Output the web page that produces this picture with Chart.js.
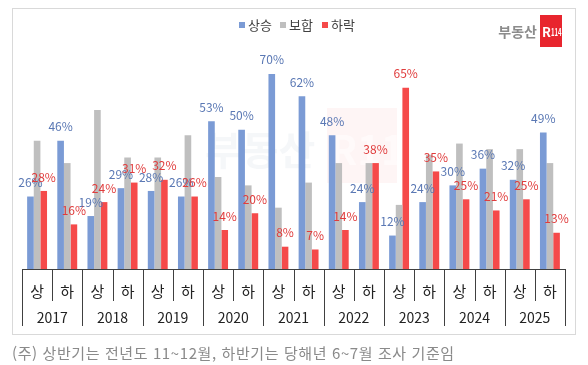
<!DOCTYPE html>
<html lang="ko">
<head>
<meta charset="UTF-8">
<title>아파트 가격 전망</title>
<script src="https://cdn.jsdelivr.net/npm/chart.js"></script>
<style>
  html, body { margin: 0; padding: 0; background: #fff; }
  #wrap { position: relative; width: 588px; height: 365px; overflow: hidden; }
  #frame { position: absolute; left: 12px; top: 8px; width: 564px; height: 327px; border: 1px solid #d9d9d9; box-sizing: border-box; }
  #chart { position: absolute; left: 0; top: 0; }
  #note { position: absolute; left: 12px; top: 342px; font: 15px 'Noto Sans CJK KR', 'Noto Sans', sans-serif; color: #8a8a8a; white-space: nowrap; letter-spacing: 0.6px; }
</style>
</head>
<body>
<div id="wrap">
  <div id="frame"></div>
  <canvas id="chart" width="588" height="365"></canvas>
  <div id="note">(주) 상반기는 전년도 11~12월, 하반기는 당해년 6~7월 조사 기준임</div>
</div>
<script>
const years = ['2017', '2018', '2019', '2020', '2021', '2022', '2023', '2024', '2025'];
const halves = ['상', '하'];
const rise = [26, 46, 19, 29, 28, 26, 53, 50, 70, 62, 48, 24, 12, 24, 30, 36, 32, 49];
const flat = [46, 38, 57, 40, 40, 48, 33, 30, 22, 31, 38, 38, 23, 41, 45, 43, 43, 38];
const fall = [28, 16, 24, 31, 32, 26, 14, 20, 8, 7, 14, 38, 65, 35, 25, 21, 25, 13];

const labels = [];
years.forEach(() => halves.forEach(h => labels.push(h)));

const FONT = "'Noto Sans CJK KR', 'Noto Sans', sans-serif";
const BLUE = '#7b9bd5', GRAY = '#bfbfbf', RED = '#f54a4a';

// 막대 위 값 표시 (상승, 하락만)
const valueLabels = {
  id: 'valueLabels',
  afterDatasetsDraw(chart) {
    const ctx = chart.ctx;
    ctx.save();
    ctx.font = '12px ' + FONT;
    ctx.textAlign = 'center';
    ctx.textBaseline = 'middle';
    [[0, '#5a78b4'], [2, '#e03c3c']].forEach(([di, color]) => {
      const meta = chart.getDatasetMeta(di);
      ctx.fillStyle = color;
      meta.data.forEach((bar, i) => {
        ctx.fillText(chart.data.datasets[di].data[i] + '%', bar.x, bar.y - 14);
      });
    });
    ctx.restore();
  }
};

// 연도 구분선, 연도 라벨, 범례, 로고
const decor = {
  id: 'decor',
  beforeDatasetsDraw(chart) {
    // 워터마크
    const ctx = chart.ctx;
    ctx.save();
    ctx.fillStyle = 'rgba(245, 80, 80, 0.06)';
    ctx.fillRect(327, 108, 70, 75);
    ctx.fillStyle = 'rgba(120, 140, 170, 0.07)';
    ctx.font = 'bold 40px ' + FONT;
    ctx.textBaseline = 'middle';
    ctx.fillText('부동산', 205, 150);
    ctx.fillStyle = 'rgba(255, 255, 255, 0.5)';
    ctx.fillText('R114', 330, 150);
    ctx.restore();
  },
  afterDraw(chart) {
    const ctx = chart.ctx;
    const x = chart.scales.x;
    const area = chart.chartArea;
    const base = area.bottom;
    const step = (x.getPixelForValue(1) - x.getPixelForValue(0));
    ctx.save();
    ctx.strokeStyle = '#404040';
    ctx.lineWidth = 1;
    for (let i = 0; i <= labels.length; i++) {
      const px = Math.round(x.getPixelForValue(i) - step / 2) + 0.5;
      ctx.beginPath();
      ctx.moveTo(px, base);
      ctx.lineTo(px, i % 2 === 0 ? base + 57 : base + 32);
      ctx.stroke();
    }
    ctx.fillStyle = '#222';
    ctx.font = '14px ' + FONT;
    ctx.textAlign = 'center';
    ctx.textBaseline = 'middle';
    years.forEach((y, k) => {
      const cx = (x.getPixelForValue(2 * k) + x.getPixelForValue(2 * k + 1)) / 2;
      ctx.fillText(y, cx, base + 49);
    });

    // 범례
    const items = [['상승', BLUE, 239], ['보합', GRAY, 280], ['하락', RED, 322]];
    ctx.font = '13px ' + FONT;
    ctx.textAlign = 'left';
    items.forEach(([t, c, lx]) => {
      ctx.fillStyle = c;
      ctx.fillRect(lx, 22, 6, 6);
      ctx.fillStyle = '#404040';
      ctx.fillText(t, lx + 9, 25);
    });

    // 로고
    ctx.fillStyle = '#8c8c8c';
    ctx.font = 'bold 14px ' + FONT;
    ctx.textAlign = 'right';
    ctx.fillText('부동산', 537, 32);
    ctx.fillStyle = '#e8252e';
    ctx.fillRect(540, 15, 22, 32);
    ctx.fillStyle = '#fff';
    ctx.textAlign = 'left';
    ctx.font = 'bold 13px ' + FONT;
    ctx.fillText('R', 542, 32);
    ctx.save();
    ctx.translate(551, 32);
    ctx.scale(0.6, 1);
    ctx.font = 'bold 10px ' + FONT;
    ctx.fillText('114', 0, 0);
    ctx.restore();
    ctx.restore();
  }
};

new Chart(document.getElementById('chart'), {
  type: 'bar',
  data: {
    labels: labels,
    datasets: [
      { label: '상승', data: rise, backgroundColor: BLUE },
      { label: '보합', data: flat, backgroundColor: GRAY },
      { label: '하락', data: fall, backgroundColor: RED }
    ]
  },
  options: {
    responsive: false,
    animation: false,
    layout: { padding: { left: 22, right: 23, top: 46, bottom: 25 } },
    datasets: { bar: { categoryPercentage: 0.66, barPercentage: 1 } },
    plugins: { legend: { display: false }, tooltip: { enabled: false } },
    scales: {
      x: {
        grid: { display: false },
        border: { display: true, color: '#404040', width: 1 },
        ticks: { color: '#222', font: { size: 15, family: FONT }, padding: 5, maxRotation: 0 },
        afterFit: s => { s.height = 71; }
      },
      y: { display: false, min: 0, max: 80 }
    }
  },
  plugins: [decor, valueLabels]
});
</script>
</body>
</html>
